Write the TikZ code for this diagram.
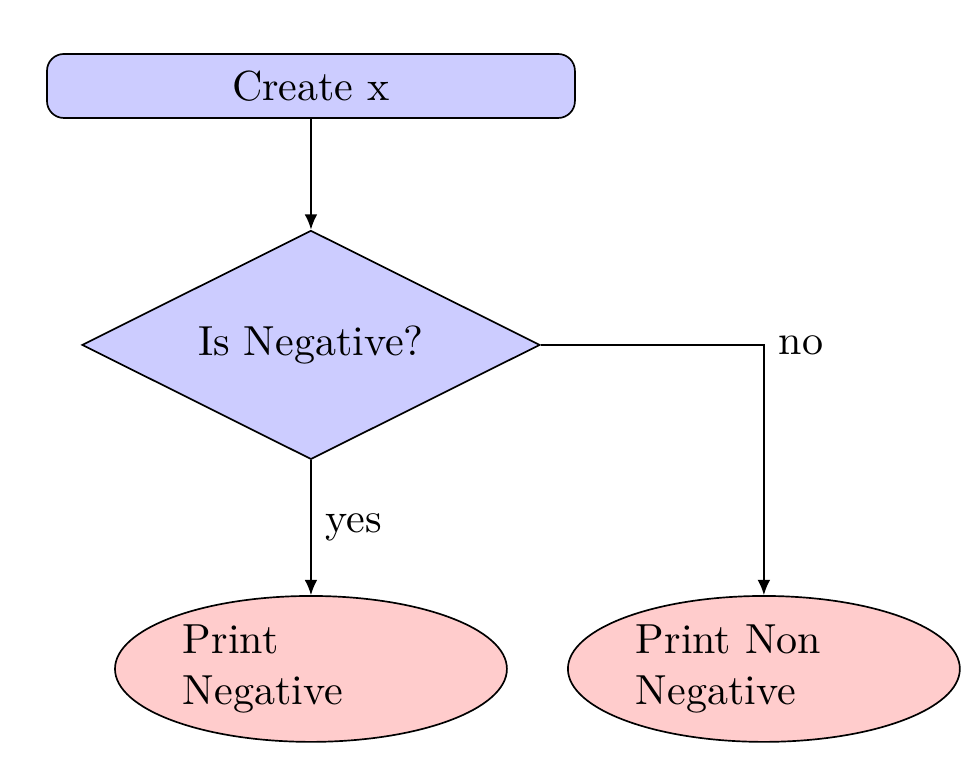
\documentclass[tikz,border=0pt]{standalone}
\usepackage{amsmath}
\usepackage{amssymb}
\usepackage{tikz}
\usetikzlibrary{shapes.geometric,arrows.meta}

\begin{document}
\begin{tikzpicture}[
		block/.style={rectangle, draw, fill=blue!20, rounded corners, inner sep=0pt, minimum width=4.414cm, minimum height=0.535cm},
		decision/.style={diamond, draw, fill=blue!20, inner sep=0pt, shape aspect=2, minimum width=3.829cm, minimum height=1.914cm},
		cloud/.style={ellipse, draw, fill=red!20, inner sep=0pt, text width=2.14cm, align=left, minimum width=3.277cm, minimum height=1.22cm},
		line/.style={draw, -{Latex[length=3.6pt,width=3pt]}}]
		\useasboundingbox (0,0) rectangle (8.169,-6.421);
		\node [block] (create) at (2.6,-0.719) {Create x};
		\node [decision] (isneg) at (2.6,-2.884) {Is Negative?};
		\node [cloud] (printneg) at (2.6,-5.593) {Print\\Negative};
		\node [cloud] (printnonneg) at (6.387,-5.593) {Print Non\\Negative};
		\path [line] (create) -- (isneg);
		\path [line] (isneg) -- node [right] {yes} (printneg);
		\path [line] (isneg) -| node [pos=0.5, right] {no} (printnonneg);
	\end{tikzpicture}
\end{document}
